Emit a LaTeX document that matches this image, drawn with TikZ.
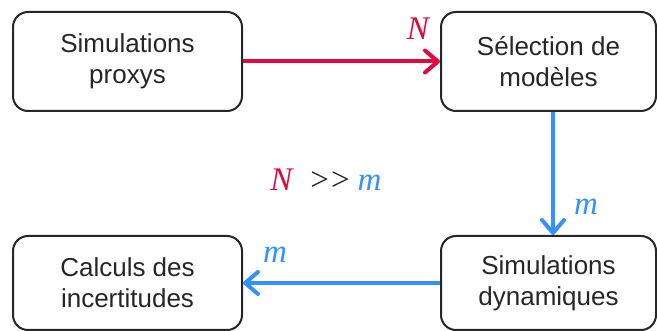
\documentclass[tikz,border=0pt]{standalone}
\usepackage{fontspec}
\setmainfont{Liberation Sans}
\newfontfamily\letterfont{Liberation Serif}
\usepackage{xcolor}
\definecolor{flowred}{HTML}{E0083C}
\definecolor{flowblue}{HTML}{3392FF}
\usepackage{tikz}
\usetikzlibrary{arrows.meta}

\begin{document}
\begin{tikzpicture}[x=0.5pt,y=0.5pt,->,>={Straight Barb[length=6.5pt,width=11pt,round]},line width=2pt]
              \tikzstyle{stepbox}=[draw=black!85,line width=1pt,rounded corners=7.5pt,align=center,text=black!85,inner sep=0pt,font=\fontsize{13}{15.5}\selectfont]
              \tikzstyle{wide}=[minimum width=114.5pt]
              \tikzstyle{narrow}=[minimum width=107.5pt]
              \tikzstyle{re}=[color=flowred]
              \tikzstyle{be}=[color=flowblue]
              \tikzstyle{lbl}=[inner sep=0pt,font=\letterfont\itshape\fontsize{16.5}{16.5}\selectfont]

              \useasboundingbox (0,0) rectangle (657,331);

              \node[stepbox,wide,minimum height=49.5pt]   (proxy)  at (127.5,269.5) {Simulations\\proxys};
              \node[stepbox,narrow,minimum height=49.5pt] (select) at (548.5,269.5) {Sélection de\\modèles};
              \node[stepbox,narrow,minimum height=47pt]   (dyn)    at (548.5,48)    {Simulations\\dynamiques};
              \node[stepbox,wide,minimum height=47pt]     (calc)   at (127.5,48)    {Calculs des\\incertitudes};

              \node[inner sep=0pt,font=\letterfont\fontsize{16.5}{16.5}\selectfont,text=black!85] (ratio) at (326,151)
                   {{\itshape\textcolor{flowred}{N}}\hspace{9pt}>\kern1pt>\hspace{4pt}{\itshape\textcolor{flowblue}{m}}};

              \path (proxy) edge [re] node [lbl,re,pos=1,anchor=south east,xshift=-4.5pt,yshift=10pt] {N} (select)
                    ([xshift=2.25pt]select.south) edge [be] node [lbl,be,pos=1,anchor=south west,xshift=9.5pt,yshift=9pt] {m} ([xshift=2.25pt]dyn.north)
                    (dyn) edge [be] node [lbl,be,pos=1,anchor=south west,xshift=9pt,yshift=9pt] {m} (calc);
\end{tikzpicture}
\end{document}
